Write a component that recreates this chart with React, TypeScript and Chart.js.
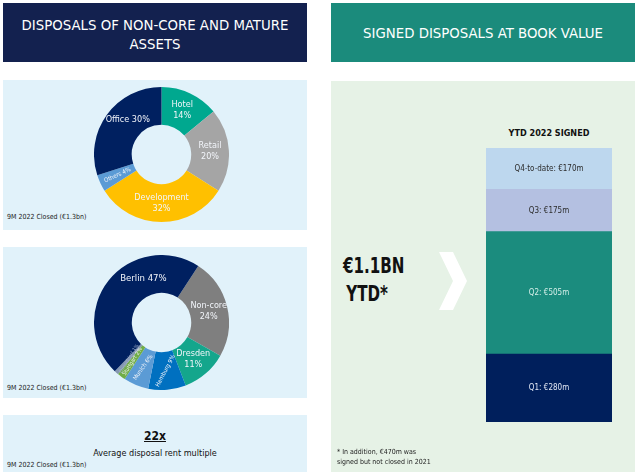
import React, { useEffect, useRef } from "react";
import { Chart, registerables } from "chart.js";
Chart.register(...registerables);

// ---- data ----
const typeLabels = ["Hotel", "Retail", "Development", "Others", "Office"];
const typeValues = [14, 20, 32, 4, 30];
const typeColors = ["#00a88f", "#a5a5a5", "#ffc000", "#5b9bd5", "#002060"];

const cityLabels = ["Non-core", "Dresden", "Hamburg", "Munich", "Stuttgart", "Düsseldorf", "Berlin"];
const cityValues = [24, 11, 9, 6, 2, 1, 47];
const cityColors = ["#7f7f7f", "#14a68c", "#0070c0", "#5b9bd5", "#70ad47", "#8496b0", "#002060"];

const quarterLabels = ["Q1", "Q2", "Q3", "Q4-to-date"];
const quarterValues = [280, 505, 175, 170];
const quarterColors = ["#001f5c", "#1b8c7e", "#b4c0e1", "#bdd7ee"];
const quarterTextColors = ["#e3e9f5", "#d5efe9", "#2b2b2b", "#2b2b2b"];

const FONT = '"DejaVu Sans Condensed", "DejaVu Sans", sans-serif';

type Item = { lines: string[]; size: number; color?: string; rot?: number; dAngle?: number; rf?: number; bold?: boolean };

const arcLabelPlugin = {
  id: "arcLabels",
  afterDatasetsDraw(chart: any, _args: any, opts: any) {
    const meta = chart.getDatasetMeta(0);
    const ctx = chart.ctx as CanvasRenderingContext2D;
    const items: Item[] = opts.items || [];
    meta.data.forEach((arc: any, i: number) => {
      const cfg = items[i];
      if (!cfg) return;
      const p = arc.getProps(["x", "y", "startAngle", "endAngle", "innerRadius", "outerRadius"], true);
      const mid = (p.startAngle + p.endAngle) / 2 + ((cfg.dAngle || 0) * Math.PI) / 180;
      const r = ((p.innerRadius + p.outerRadius) / 2) * (cfg.rf || 1);
      const px = p.x + Math.cos(mid) * r;
      const py = p.y + Math.sin(mid) * r;
      ctx.save();
      ctx.translate(px, py);
      ctx.rotate(((cfg.rot || 0) * Math.PI) / 180);
      ctx.font = `${cfg.bold ? "bold " : ""}${cfg.size}px ${FONT}`;
      ctx.fillStyle = cfg.color || "#f2f5fa";
      ctx.textAlign = "center";
      ctx.textBaseline = "middle";
      const lh = cfg.size * 1.25;
      cfg.lines.forEach((l, k) => ctx.fillText(l, 0, (k - (cfg.lines.length - 1) / 2) * lh));
      ctx.restore();
    });
  },
};

const barLabelPlugin = {
  id: "barLabels",
  afterDatasetsDraw(chart: any) {
    const ctx = chart.ctx as CanvasRenderingContext2D;
    chart.data.datasets.forEach((ds: any, i: number) => {
      const el = chart.getDatasetMeta(i).data[0];
      if (!el) return;
      const cy = (el.y + el.base) / 2;
      ctx.save();
      ctx.font = `8px ${FONT}`;
      ctx.fillStyle = quarterTextColors[i];
      ctx.textAlign = "center";
      ctx.textBaseline = "middle";
      ctx.fillText(`${ds.label}: €${ds.data[0]}m`, el.x, cy);
      ctx.restore();
    });
  },
};

function Donut(props: { labels: string[]; values: number[]; colors: string[]; rotation: number; items: Item[]; left: number; top: number; size: number }) {
  const ref = useRef<HTMLCanvasElement>(null);
  useEffect(() => {
    const chart = new Chart(ref.current!, {
      type: "doughnut",
      data: { labels: props.labels, datasets: [{ data: props.values, backgroundColor: props.colors, borderWidth: 0 }] },
      options: {
        responsive: false,
        animation: false,
        devicePixelRatio: 1,
        rotation: props.rotation,
        cutout: "44%",
        layout: { padding: 0 },
        plugins: { legend: { display: false }, tooltip: { enabled: false }, arcLabels: { items: props.items } } as any,
      },
      plugins: [arcLabelPlugin],
    });
    return () => chart.destroy();
  }, []);
  return (
    <canvas
      ref={ref}
      width={props.size}
      height={props.size}
      style={{ position: "absolute", left: props.left, top: props.top, width: props.size, height: props.size }}
    />
  );
}

function StackBar() {
  const ref = useRef<HTMLCanvasElement>(null);
  useEffect(() => {
    const total = quarterValues.reduce((a, b) => a + b, 0);
    const chart = new Chart(ref.current!, {
      type: "bar",
      data: {
        labels: ["YTD 2022"],
        datasets: quarterLabels.map((l, i) => ({
          label: l,
          data: [quarterValues[i]],
          backgroundColor: quarterColors[i],
          borderWidth: 0,
          barPercentage: 1,
          categoryPercentage: 1,
        })),
      },
      options: {
        responsive: false,
        animation: false,
        devicePixelRatio: 1,
        layout: { padding: 0 },
        scales: {
          x: { stacked: true, display: false },
          y: { stacked: true, display: false, min: 0, max: total },
        },
        plugins: { legend: { display: false }, tooltip: { enabled: false } },
      },
      plugins: [barLabelPlugin],
    });
    return () => chart.destroy();
  }, []);
  return <canvas ref={ref} width={126} height={274} style={{ position: "absolute", left: 486, top: 148, width: 126, height: 274 }} />;
}

const typeItems: Item[] = [
  { lines: [typeLabels[0], `${typeValues[0]}%`], size: 9 },
  { lines: [typeLabels[1], `${typeValues[1]}%`], size: 9 },
  { lines: [typeLabels[2], `${typeValues[2]}%`], size: 9 },
  { lines: [`${typeLabels[3]} ${typeValues[3]}%`], size: 6, rot: -25 },
  { lines: [`${typeLabels[4]} ${typeValues[4]}%`], size: 9, dAngle: 10 },
];

const cityItems: Item[] = [
  { lines: [cityLabels[0], `${cityValues[0]}%`], size: 9 },
  { lines: [cityLabels[1], `${cityValues[1]}%`], size: 9 },
  { lines: [`${cityLabels[2]} ${cityValues[2]}%`], size: 6, rot: -62 },
  { lines: [`${cityLabels[3]} ${cityValues[3]}%`], size: 6, rot: -55 },
  { lines: [`${cityLabels[4]} ${cityValues[4]}%`], size: 5.5, rot: -58 },
  { lines: [`${cityLabels[5]} ${cityValues[5]}%`], size: 5, rot: -58, color: "#9fb0cc" },
  { lines: [`${cityLabels[6]} ${cityValues[6]}%`], size: 9.5, dAngle: 29, rf: 0.97 },
];

const abs = (s: React.CSSProperties): React.CSSProperties => ({ position: "absolute", ...s });

export default function App() {
  return (
    <div style={abs({ left: 0, top: 0, width: 640, height: 473, background: "#ffffff", overflow: "hidden", fontFamily: FONT })}>
      {/* left header */}
      <div style={abs({ left: 3, top: 3, width: 304, height: 59, background: "#13214f", color: "#ffffff", fontSize: 14.8, lineHeight: "19px", textAlign: "center", paddingTop: 12, boxSizing: "border-box" })}>
        DISPOSALS OF NON-CORE AND MATURE
        <br />
        ASSETS
      </div>
      {/* right header */}
      <div style={abs({ left: 331, top: 3, width: 304, height: 59, background: "#1b8b7c", color: "#ffffff", fontSize: 14.8, lineHeight: "59px", textAlign: "center" })}>
        SIGNED DISPOSALS AT BOOK VALUE
      </div>

      {/* left panels */}
      <div style={abs({ left: 3, top: 80, width: 304, height: 150, background: "#e1f2fa" })} />
      <div style={abs({ left: 3, top: 247, width: 304, height: 151, background: "#e1f2fa" })} />
      <div style={abs({ left: 3, top: 415, width: 304, height: 57, background: "#e1f2fa" })} />

      <Donut labels={typeLabels} values={typeValues} colors={typeColors} rotation={0} items={typeItems} left={94} top={87} size={135} />
      <Donut labels={cityLabels} values={cityValues} colors={cityColors} rotation={33} items={cityItems} left={94} top={255} size={135} />

      <div style={abs({ left: 7, top: 213, fontSize: 7, color: "#222" })}>9M 2022 Closed (€1.3bn)</div>
      <div style={abs({ left: 7, top: 384, fontSize: 7, color: "#222" })}>9M 2022 Closed (€1.3bn)</div>
      <div style={abs({ left: 7, top: 461, fontSize: 7, color: "#222" })}>9M 2022 Closed (€1.3bn)</div>

      <div style={abs({ left: 3, top: 429, width: 304, textAlign: "center", fontSize: 12, fontWeight: "bold", color: "#111", textDecoration: "underline" })}>22x</div>
      <div style={abs({ left: 3, top: 448, width: 304, textAlign: "center", fontSize: 9, color: "#111" })}>Average disposal rent multiple</div>

      {/* right panel */}
      <div style={abs({ left: 331, top: 81, width: 304, height: 391, background: "#e6f2e6" })} />
      <div style={abs({ left: 486, top: 128, width: 126, textAlign: "center", fontSize: 9, fontWeight: "bold", color: "#111" })}>YTD 2022 SIGNED</div>
      <StackBar />

      <div style={abs({ left: 343, top: 252, fontSize: 21, fontWeight: "bold", color: "#111", lineHeight: "28px", transform: "scaleX(0.8)", transformOrigin: "0 0" })}>
        €1.1BN
        <br />
        <span style={{ paddingLeft: 4 }}>YTD*</span>
      </div>
      <svg width={640} height={473} style={abs({ left: 0, top: 0, pointerEvents: "none" })}>
        <polygon points="439,252 453,252 467,281 453,310 439,310 453,281" fill="#ffffff" />
      </svg>

      <div style={abs({ left: 337, top: 447, fontSize: 7, color: "#222", lineHeight: "10px" })}>
        * In addition, €470m was
        <br />
        signed but not closed in 2021
      </div>
    </div>
  );
}
